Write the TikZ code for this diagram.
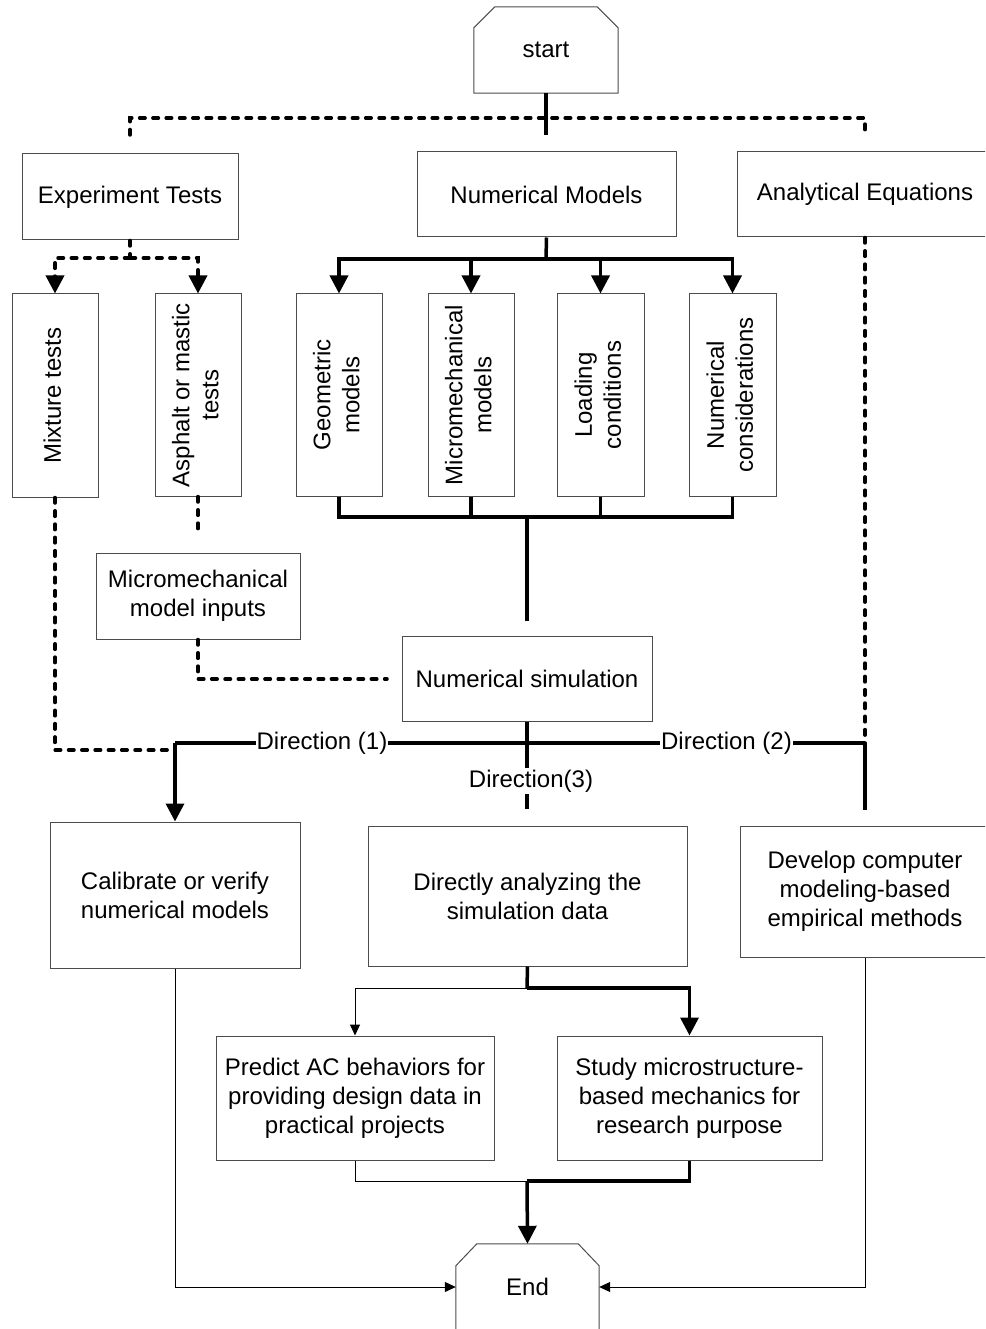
\documentclass[tikz,border=0pt]{standalone}
\usepackage{fontspec}
\setmainfont{Liberation Sans}
\usetikzlibrary{arrows.meta}
\newcommand\vlabel[1]{\rotatebox{90}{\begin{tabular}{@{}c@{}}#1\end{tabular}}}
\begin{document}
\begin{tikzpicture}[x=1pt,y=-1pt,
  every node/.style={font=\fontsize{24}{29}\selectfont, inner sep=0pt, align=center},
  bx/.style 2 args={draw=black!70, line width=1pt, minimum width=#1pt, minimum height=#2pt},
  outline/.style={draw=black!70, line width=1pt},
  heavy/.style={line width=3.5pt, draw=black},
  dashedline/.style={line width=3.5pt, draw=black, line cap=round, dash pattern=on 5.5pt off 7.8pt},
  thinline/.style={line width=1pt, draw=black},
  big/.tip={Triangle[length=18pt,width=18pt]},
  small/.tip={Triangle[length=11pt,width=10pt]},
  dirlabel/.style={fill=white, inner xsep=1pt, inner ysep=2pt}
]
\clip (0,0) rectangle (985,1329);

% terminals (drawn as chamfered outlines)
\node[minimum width=144pt, minimum height=86pt] (start) at (546,50) {start};
\draw[outline] (start.south west) -- ([yshift=-21pt]start.north west) -- ([xshift=21pt]start.north west)
  -- ([xshift=-21pt]start.north east) -- ([yshift=-21pt]start.north east) -- (start.south east) -- cycle;
\node[minimum width=143pt, minimum height=86pt] (end) at (527.5,1287) {End};
\draw[outline] (end.south west) -- ([yshift=-22pt]end.north west) -- ([xshift=21pt]end.north west)
  -- ([xshift=-21pt]end.north east) -- ([yshift=-22pt]end.north east) -- (end.south east);

% first level
\node[bx={216}{86}] (et) at (130,197) {Experiment Tests};
\node[bx={259}{85}] (nm) at (546.5,194.5) {Numerical Models};
\node[bx={256}{85}] (ae) at (865,194.5) {Analytical Equations};

% vertical boxes
\node[bx={86}{203}] (mix) at (55,395.5) {\vlabel{Mixture tests}};
\node[bx={86}{202}] (asp) at (198,395) {\vlabel{Asphalt or mastic\\tests}};
\node[bx={86}{202}] (geo) at (339,395) {\vlabel{Geometric\\models}};
\node[bx={86}{202}] (mic) at (471,395) {\vlabel{Micromechanical\\models}};
\node[bx={87}{202}] (load) at (600.5,395) {\vlabel{Loading\\conditions}};
\node[bx={87}{202}] (num) at (732.5,395) {\vlabel{Numerical\\considerations}};

\node[bx={204}{86}] (mmi) at (198,596) {Micromechanical\\model inputs};
\node[bx={250}{85}] (ns) at (527,678.5) {Numerical simulation};

% outcome boxes
\node[bx={250}{146}] (cal) at (175,895) {Calibrate or verify\\numerical models};
\node[bx={319}{140}] (da) at (527.5,896) {Directly analyzing the\\simulation data};
\node[bx={250}{131}] (dev) at (865,891.5) {Develop computer\\modeling-based\\empirical methods};
\node[bx={278}{124}] (pred) at (355,1098) {Predict AC behaviors for\\providing design data in\\practical projects};
\node[bx={265}{124}] (study) at (689.5,1098) {Study microstructure-\\based mechanics for\\research purpose};

% junction points
\coordinate (s1) at (546,135);
\coordinate (tl) at (130,135);
\coordinate (tr) at (865,135);
\coordinate (etj) at (130,258);
\coordinate (nmj) at (546,259);
\coordinate (bj) at (527,517);
\coordinate (nsin) at (527,621);
\coordinate (aspd) at (198,536);
\coordinate (mmid) at (198,679);
\coordinate (mmie) at (387,679);
\coordinate (dl) at (175,743);
\coordinate (dr) at (865,743);
\coordinate (dr2) at (865,810);
\coordinate (mixc) at (55,750);
\coordinate (mixe) at (175,750);
\coordinate (d3) at (527,809);
\coordinate (dj) at (527,988);
\coordinate (ej) at (527,1181);

% top distribution
\draw[dashedline] (tl) -- (130,118) -- (865,118) -- (tr);
\draw[heavy] (start.south) -- (s1);

% experiment branch
\draw[dashedline] (et.south) -- (etj);
\draw[dashedline,-big] (etj) -| (mix.north);
\draw[dashedline,-big] (etj) -| (asp.north);
\draw[dashedline] (asp.south) -- (aspd);
\draw[dashedline] (mmi.south) -- (mmid) -- (mmie);
\draw[dashedline] (mix.south) -- (mixc) -- (mixe);

% numerical branch
\draw[heavy] (nm.south) -- (nmj);
\draw[heavy,-big] (nmj) -| (geo.north);
\draw[heavy,-big] (nmj) -| (mic.north);
\draw[heavy,-big] (nmj) -| (load.north);
\draw[heavy,-big] (nmj) -| (num.north);
\draw[heavy] (geo.south) |- (bj);
\draw[heavy] (mic.south) |- (bj);
\draw[heavy] (load.south) |- (bj);
\draw[heavy] (num.south) |- (bj);
\draw[heavy] (bj) -- (nsin);

% analytical branch
\draw[dashedline] (ae.south) -- (dr);

% directions
\draw[heavy] (dl) -- (dr);
\draw[heavy] (dr) -- (dr2);
\draw[heavy,-big] (dl) -- (cal.north);
\draw[heavy] (ns.south) -- (d3);
\node[dirlabel] (dir1) at (322,743) {Direction (1)};
\node[dirlabel] (dir2) at (726.5,743) {Direction (2)};
\node[dirlabel] (dir3) at (531,781) {Direction(3)};

% direct analysis split
\draw[heavy] (da.south) -- (dj);
\draw[heavy,-big] (dj) -| (study.north);
\draw[thinline,-small] (dj) -| (pred.north);

% merge into end
\draw[thinline] (pred.south) |- (ej);
\draw[heavy] (study.south) |- (ej);
\draw[heavy,-big] (ej) -- (end.north);
\draw[thinline,-small] (cal.south) |- (end.west);
\draw[thinline,-small] (dev.south) |- (end.east);
\end{tikzpicture}
\end{document}
